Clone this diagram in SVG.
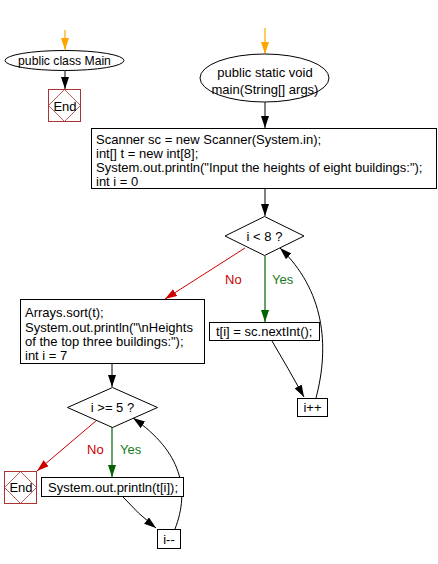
<svg xmlns="http://www.w3.org/2000/svg" width="438" height="564" viewBox="0 0 438 564">
<defs>
<style>
text{font-family:"Liberation Sans",Arial,sans-serif;font-size:13px;fill:#000}
.shape{fill:#fff;stroke:#000;stroke-width:1}
.end{fill:#fff;stroke:#a33;stroke-width:1}
.endd{fill:none;stroke:#a33;stroke-width:0.8}
.c{fill:none;stroke:#000;stroke-width:1}
.cg{fill:none;stroke:#006400;stroke-width:1.2}
.cr{fill:none;stroke:#cc0000;stroke-width:1}
.co{fill:none;stroke:#ffa500;stroke-width:1.2}
.no{fill:#cc0000}
.yes{fill:#1a7a1a}
</style>
<marker id="ab" viewBox="0 0 12 8" refX="12" refY="4" markerUnits="userSpaceOnUse" markerWidth="12" markerHeight="8" orient="auto"><path d="M0,0 L12,4 L0,8 z" fill="#000"/></marker>
<marker id="ag" viewBox="0 0 12 8" refX="12" refY="4" markerUnits="userSpaceOnUse" markerWidth="12" markerHeight="8" orient="auto"><path d="M0,0 L12,4 L0,8 z" fill="#006400"/></marker>
<marker id="ar" viewBox="0 0 12 8" refX="12" refY="4" markerUnits="userSpaceOnUse" markerWidth="12" markerHeight="8" orient="auto"><path d="M0,0 L12,4 L0,8 z" fill="#cc0000"/></marker>
<marker id="ao" viewBox="0 0 12 8" refX="12" refY="4" markerUnits="userSpaceOnUse" markerWidth="12" markerHeight="8" orient="auto"><path d="M0,0 L12,4 L0,8 z" fill="#ffa500"/></marker>
</defs>
<rect width="438" height="564" fill="#fff"/>

<g id="connectors">
<path class="co" d="M65,30 L65,50" marker-end="url(#ao)"/>
<path class="co" d="M265,28 L265,54" marker-end="url(#ao)"/>
<path class="c" d="M65,70 L65,89" marker-end="url(#ab)"/>
<path class="c" d="M265,102 L265,128" marker-end="url(#ab)"/>
<path class="c" d="M265,188 L265,216" marker-end="url(#ab)"/>
<path class="cg" d="M265,256 L265,322" marker-end="url(#ag)"/>
<path class="cr" d="M245,248 L165,299" marker-end="url(#ar)"/>
<path class="c" d="M272,341 Q288,368 304,397" marker-end="url(#ab)"/>
<path class="c" d="M316,398 C330,345 324,290 280,248" marker-end="url(#ab)"/>
<path class="c" d="M112,364 L112,387" marker-end="url(#ab)"/>
<path class="cg" d="M112,427 L112,477" marker-end="url(#ag)"/>
<path class="cr" d="M97,420 L37,471" marker-end="url(#ar)"/>
<path class="c" d="M123,497 Q138,514 156,528" marker-end="url(#ab)"/>
<path class="c" d="M175,529 C190,490 182,452 133,418" marker-end="url(#ab)"/>
<text class="no" x="225" y="284">No</text>
<text class="yes" x="272" y="284">Yes</text>
<text class="no" x="87" y="454">No</text>
<text class="yes" x="120" y="454">Yes</text>
</g>

<g id="start1">
<ellipse class="shape" cx="64.5" cy="60.5" rx="59.5" ry="10"/>
<text x="64.5" y="65" text-anchor="middle" style="font-size:12.2px">public class Main</text>
</g>
<g id="end1">
<rect class="end" x="48.5" y="89.5" width="32" height="32"/>
<path class="endd" d="M64.5,89.5 L80.5,105.5 L64.5,121.5 L48.5,105.5 z"/>
<text x="65" y="110.5" text-anchor="middle">End</text>
</g>
<g id="start2">
<ellipse class="shape" cx="264.5" cy="78" rx="64.5" ry="24"/>
<text x="265" y="77" text-anchor="middle">public static void</text>
<text x="265" y="94" text-anchor="middle">main(String[] args)</text>
</g>
<g id="init">
<rect class="shape" x="91.5" y="128.5" width="345" height="60"/>
<text x="96" y="143.5">Scanner sc = new Scanner(System.in);</text>
<text x="96" y="157.5">int[] t = new int[8];</text>
<text x="96" y="171.5">System.out.println("Input the heights of eight buildings:");</text>
<text x="96" y="185.5">int i = 0</text>
</g>
<g id="cond1">
<path class="shape" d="M264.5,216.5 L304,236 L264.5,255.5 L225,236 z"/>
<text x="264.5" y="241" text-anchor="middle">i &lt; 8 ?</text>
</g>
<g id="read">
<rect class="shape" x="209.5" y="322.5" width="110" height="18"/>
<text x="216" y="336">t[i] = sc.nextInt();</text>
</g>
<g id="inc">
<rect class="shape" x="297.5" y="398.5" width="30" height="18"/>
<text x="312.5" y="412" text-anchor="middle">i++</text>
</g>
<g id="sort">
<rect class="shape" x="20.5" y="299.5" width="184" height="64"/>
<text x="25" y="317">Arrays.sort(t);</text>
<text x="25" y="331.5">System.out.println("\nHeights</text>
<text x="25" y="346">of the top three buildings:");</text>
<text x="25" y="360">int i = 7</text>
</g>
<g id="cond2">
<path class="shape" d="M112.5,387.5 L157.5,407.5 L112.5,427.5 L67.5,407.5 z"/>
<text x="112.5" y="412" text-anchor="middle">i &gt;= 5 ?</text>
</g>
<g id="print">
<rect class="shape" x="41.5" y="477.5" width="142" height="19"/>
<text x="48" y="492">System.out.println(t[i]);</text>
</g>
<g id="dec">
<rect class="shape" x="157.5" y="529.5" width="23" height="19"/>
<text x="169" y="544" text-anchor="middle">i--</text>
</g>
<g id="end2">
<rect class="end" x="4.5" y="471.5" width="32" height="32"/>
<path class="endd" d="M20.5,471.5 L36.5,487.5 L20.5,503.5 L4.5,487.5 z"/>
<text x="21" y="492" text-anchor="middle">End</text>
</g>
</svg>
